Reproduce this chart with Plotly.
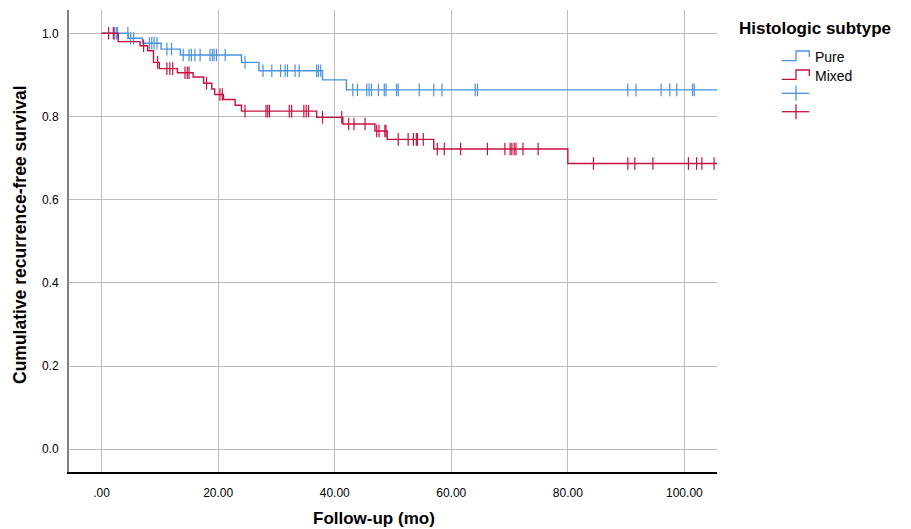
import plotly.graph_objects as go
import numpy as np

# ---- data ----
pure_event_t = [0.0, 4.6, 7.0, 10.2, 13.5, 24.0, 27.0, 37.9, 42.0, 107.0]
pure_event_s = [1.0, 0.988, 0.976, 0.962, 0.948, 0.930, 0.910, 0.888, 0.864, 0.864]
pure_censor_t = [2.2, 2.5, 2.7, 4.5, 5.0, 5.5, 8.2, 8.6, 9.0, 9.5, 11.2, 12.0,
                 14.0, 15.0, 15.4, 16.0, 16.9, 18.6, 19.0, 19.3, 19.7, 21.2,
                 24.6, 27.7, 29.2, 30.7, 31.5, 31.9, 33.2, 33.9, 36.9, 37.2, 37.6,
                 43.1, 43.9, 45.5, 45.9, 46.3, 47.5, 48.5, 48.8, 50.6, 50.9, 54.5,
                 57.0, 58.4, 64.1, 64.5, 90.3, 91.7, 96.0, 97.5, 98.7, 101.4, 101.7, 107.0]

mixed_event_t = [0.0, 2.85, 6.6, 7.9, 8.9, 9.9, 13.0, 15.7, 17.5, 18.9, 19.4, 20.9,
                 22.9, 24.0, 36.9, 41.4, 46.9, 49.0, 57.0, 80.0, 107.0]
mixed_event_s = [1.0, 0.980, 0.970, 0.958, 0.930, 0.915, 0.905, 0.895, 0.880, 0.866,
                 0.853, 0.841, 0.827, 0.813, 0.798, 0.782, 0.765, 0.745, 0.722, 0.687, 0.687]
mixed_censor_t = [1.2, 2.0, 7.2, 9.6, 11.2, 11.7, 12.2, 14.3, 14.7, 15.0, 18.0,
                  20.3, 20.7, 24.6, 28.2, 28.5, 28.8, 32.2, 32.6, 34.7, 35.1, 35.5,
                  37.9, 41.2, 42.4, 43.3, 45.2, 47.2, 47.6, 48.6, 48.8,
                  50.9, 52.6, 53.5, 54.0, 54.2, 55.2,
                  57.6, 58.8, 61.6, 66.2, 69.2, 70.1, 70.4, 70.8, 71.1, 72.3, 74.9,
                  84.4, 90.3, 91.5, 94.6, 100.7, 102.1, 103.0, 105.1, 105.7]

x_tick_vals = [0, 20, 40, 60, 80, 100]
x_tick_text = [".00", "20.00", "40.00", "60.00", "80.00", "100.00"]
y_tick_vals = [0.0, 0.2, 0.4, 0.6, 0.8, 1.0]
y_tick_text = ["0.0", "0.2", "0.4", "0.6", "0.8", "1.0"]

group_names = ["Pure", "Mixed"]
BLUE = "#4a92e0"
RED = "#c8103e"


def step_lookup(t_ev, s_ev, t):
    idx = np.searchsorted(np.array(t_ev), np.array(t), side="right") - 1
    return [s_ev[i] for i in idx]


fig = go.Figure()
for tev, sev, tc, col in [
    (pure_event_t, pure_event_s, pure_censor_t, BLUE),
    (mixed_event_t, mixed_event_s, mixed_censor_t, RED),
]:
    fig.add_trace(go.Scatter(x=tev, y=sev, mode="lines", line=dict(color=col, width=1.4, shape="hv"),
                             showlegend=False, hoverinfo="skip"))
    fig.add_trace(go.Scatter(x=tc, y=step_lookup(tev, sev, tc), mode="markers",
                             marker=dict(symbol="line-ns", size=9, line=dict(color=col, width=1.2)),
                             showlegend=False, hoverinfo="skip"))

FONT = "Arial, Liberation Sans, sans-serif"
W, H = 911, 529
L, R, T, B = 69, 717, 10, 472

fig.update_layout(
    width=W, height=H,
    margin=dict(l=L, r=W - R, t=T, b=H - B, pad=0),
    paper_bgcolor="white", plot_bgcolor="white",
    font=dict(family=FONT, size=12, color="black"),
    showlegend=False,
)
fig.update_xaxes(range=[-5.6, 105.6], tickvals=x_tick_vals, ticktext=x_tick_text,
                 showgrid=True, gridcolor="#bdbdbd", gridwidth=1, zeroline=False,
                 showline=True, linecolor="black", linewidth=1.5, ticks="",
                 ticklabelstandoff=9, tickfont=dict(size=12, family=FONT))
fig.update_yaxes(range=[-0.0546, 1.056], tickvals=y_tick_vals, ticktext=y_tick_text,
                 showgrid=True, gridcolor="#bdbdbd", gridwidth=1, zeroline=False,
                 showline=True, linecolor="#808080", linewidth=2, ticks="",
                 ticklabelstandoff=6, tickfont=dict(size=12, family=FONT))


def px(x):
    return (x - L) / (R - L)


def py(y):
    return (B - y) / (B - T)


# axis titles
fig.add_annotation(x=px(374), y=py(518), xref="paper", yref="paper", text="<b>Follow-up (mo)</b>",
                   showarrow=False, font=dict(size=17, family=FONT), xanchor="center", yanchor="middle")
fig.add_annotation(x=px(20), y=py(235), xref="paper", yref="paper",
                   text="<b>Cumulative recurrence-free survival</b>", textangle=-90,
                   showarrow=False, font=dict(size=17.5, family=FONT), xanchor="center", yanchor="middle")

# legend
fig.add_annotation(x=px(737), y=py(29), xref="paper", yref="paper", text="<b>Histologic subtype</b>",
                   showarrow=False, font=dict(size=17, family=FONT), xanchor="left", yanchor="middle")
for name, col, ybot, ytop in [(group_names[0], BLUE, 60.7, 51), (group_names[1], RED, 79.3, 70)]:
    path = (f"M {px(781.7)},{py(ybot)} L {px(796)},{py(ybot)} L {px(796)},{py(ytop)} "
            f"L {px(809.3)},{py(ytop)} L {px(809.3)},{py(ytop + 6)}")
    fig.add_shape(type="path", path=path, xref="paper", yref="paper", line=dict(color=col, width=1.3))
    fig.add_annotation(x=px(813), y=py((ybot + ytop) / 2 + 1), xref="paper", yref="paper", text=name,
                       showarrow=False, font=dict(size=14, family=FONT), xanchor="left", yanchor="middle")
for col, yc in [(BLUE, 93.3), (RED, 111.7)]:
    fig.add_shape(type="line", x0=px(781.7), x1=px(809.3), y0=py(yc), y1=py(yc), xref="paper", yref="paper",
                  line=dict(color=col, width=1.3))
    fig.add_shape(type="line", x0=px(796), x1=px(796), y0=py(yc - 7.5), y1=py(yc + 7.5), xref="paper",
                  yref="paper", line=dict(color=col, width=1.3))

fig.write_html("out.html", config={"displayModeBar": False},
               post_script="document.body.style.margin='0px';document.body.style.overflow='hidden';")
